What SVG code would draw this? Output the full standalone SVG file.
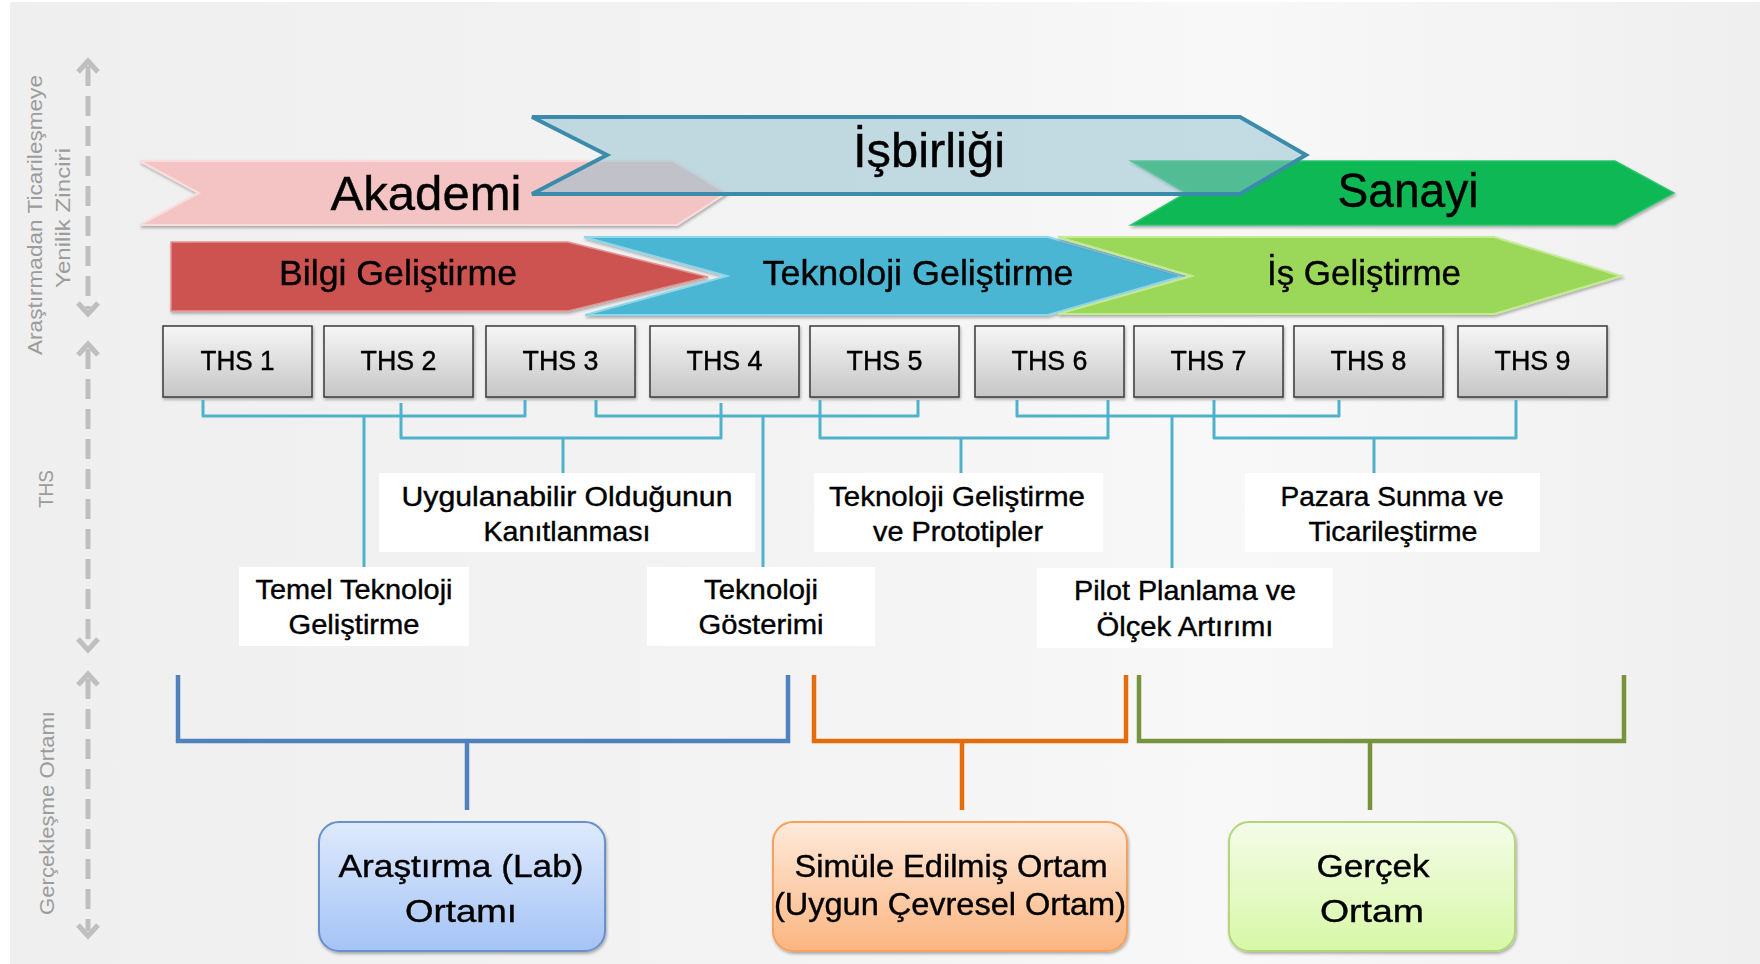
<svg xmlns="http://www.w3.org/2000/svg" width="1760" height="964" viewBox="0 0 1760 964">
<defs>
<style>
.t{font-family:"Liberation Sans",Arial,sans-serif;fill:#000;stroke:#000;stroke-width:0.4;text-anchor:middle}
.side{font-family:"Liberation Sans",Arial,sans-serif;fill:#9c9c9c;font-size:20px;text-anchor:middle}
.big{font-size:48px}
.bar{font-size:35px}
.ths{font-size:28px}
.lab{font-size:28px}
.env{font-size:32px}
.teal{fill:none;stroke:#4fb1cb;stroke-width:3;stroke-linejoin:round}
.ax{fill:none;stroke:#bfbfbf;stroke-width:5}
.axd{fill:none;stroke:#bfbfbf;stroke-width:5;stroke-dasharray:20 10}
.wbox{fill:#fff}
.thsbox{fill:url(#gThs);stroke:#3a3a3a;stroke-width:1.5}
</style>
<linearGradient id="gBg" x1="0" y1="0" x2="1" y2="0">
<stop offset="0" stop-color="#efefef"/>
<stop offset="0.45" stop-color="#f3f3f3"/>
<stop offset="0.7" stop-color="#f8f8f8"/>
<stop offset="1" stop-color="#efefef"/>
</linearGradient>
<linearGradient id="gThs" x1="0" y1="0" x2="0" y2="1">
<stop offset="0" stop-color="#f6f6f6"/>
<stop offset="1" stop-color="#c6c6c6"/>
</linearGradient>
<linearGradient id="gBlue" x1="0" y1="0" x2="0" y2="1">
<stop offset="0" stop-color="#dfeafc"/>
<stop offset="1" stop-color="#a4c3f6"/>
</linearGradient>
<linearGradient id="gOr" x1="0" y1="0" x2="0" y2="1">
<stop offset="0" stop-color="#feeadb"/>
<stop offset="1" stop-color="#fbb580"/>
</linearGradient>
<linearGradient id="gGr" x1="0" y1="0" x2="0" y2="1">
<stop offset="0" stop-color="#f4fce8"/>
<stop offset="1" stop-color="#d7f8a6"/>
</linearGradient>
<filter id="sh" x="-5%" y="-10%" width="110%" height="130%">
<feDropShadow dx="1" dy="2" stdDeviation="1.5" flood-color="#000" flood-opacity="0.3"/>
</filter>
</defs>

<rect x="0" y="0" width="1760" height="964" fill="#ffffff"/>
<rect x="10" y="2" width="1750" height="962" fill="url(#gBg)"/>

<g id="axes">
<path class="axd" d="M88,66 V309"/>
<path class="ax" d="M78,72 L88,61 L98,72"/>
<path class="ax" d="M78,303 L88,314 L98,303"/>
<path class="axd" d="M88,349 V645"/>
<path class="ax" d="M78,355 L88,344 L98,355"/>
<path class="ax" d="M78,639 L88,650 L98,639"/>
<path class="axd" d="M88,679 V931"/>
<path class="ax" d="M78,685 L88,674 L98,685"/>
<path class="ax" d="M78,925 L88,936 L98,925"/>
<text class="side" transform="translate(42,215) rotate(-90)" textLength="280" lengthAdjust="spacingAndGlyphs">Araştırmadan Ticarileşmeye</text>
<text class="side" transform="translate(70,218) rotate(-90)" textLength="140" lengthAdjust="spacingAndGlyphs">Yenilik Zinciri</text>
<text class="side" transform="translate(53,489) rotate(-90)" textLength="38" lengthAdjust="spacingAndGlyphs">THS</text>
<text class="side" transform="translate(54,813) rotate(-90)" textLength="204" lengthAdjust="spacingAndGlyphs">Gerçekleşme Ortamı</text>
</g>

<g id="akademi" filter="url(#sh)">
<polygon points="140,161 673,161 726,193 677,225 140,225 199,193" fill="#f4c3c3" stroke="#f9dcdc" stroke-width="2"/>
<text class="t big" x="426" y="210" textLength="191" lengthAdjust="spacingAndGlyphs">Akademi</text>
</g>
<g id="sanayi" filter="url(#sh)">
<polygon points="1131,161 1615,161 1674,193 1615,225 1131,225 1186,193" fill="#0bb854" stroke="#2cc46c" stroke-width="1.5"/>
<text class="t big" x="1408" y="207" textLength="141" lengthAdjust="spacingAndGlyphs">Sanayi</text>
</g>
<g id="isbirligi">
<polygon points="532,117 1240,117 1306,155 1240,194 532,194 607,155" fill="#92c2cf" fill-opacity="0.52" stroke="#3b8cab" stroke-width="4"/>
<text class="t big" x="929" y="167" textLength="152" lengthAdjust="spacingAndGlyphs">İşbirliği</text>
</g>

<g id="bilgi" filter="url(#sh)">
<polygon points="171,242 568,242 708,277 568,311 171,311" fill="#cd5351" stroke="#e39492" stroke-width="1.5"/>
<text class="t bar" x="398" y="285" textLength="238" lengthAdjust="spacingAndGlyphs">Bilgi Geliştirme</text>
</g>
<g id="teknoloji" filter="url(#sh)">
<polygon points="584,237 1048,237 1183,276 1048,315 585,315 727,276" fill="#4cb6d3" stroke="#8fd6ea" stroke-width="2"/>
<text class="t bar" x="918" y="285" textLength="311" lengthAdjust="spacingAndGlyphs">Teknoloji Geliştirme</text>
</g>
<g id="is" filter="url(#sh)">
<polygon points="1058,237 1494,237 1621,276 1494,314 1058,314 1192,276" fill="#9bd759" stroke="#c3eb92" stroke-width="2"/>
<text class="t bar" x="1364" y="285" textLength="194" lengthAdjust="spacingAndGlyphs">İş Geliştirme</text>
</g>

<g id="ths1" filter="url(#sh)"><rect class="thsbox" x="163" y="326" width="149" height="71"/><text class="t ths" x="237.5" y="370" textLength="74" lengthAdjust="spacingAndGlyphs">THS 1</text></g>
<g id="ths2" filter="url(#sh)"><rect class="thsbox" x="324" y="326" width="149" height="71"/><text class="t ths" x="398.5" y="370" textLength="76" lengthAdjust="spacingAndGlyphs">THS 2</text></g>
<g id="ths3" filter="url(#sh)"><rect class="thsbox" x="486" y="326" width="149" height="71"/><text class="t ths" x="560.5" y="370" textLength="76" lengthAdjust="spacingAndGlyphs">THS 3</text></g>
<g id="ths4" filter="url(#sh)"><rect class="thsbox" x="650" y="326" width="149" height="71"/><text class="t ths" x="724.5" y="370" textLength="76" lengthAdjust="spacingAndGlyphs">THS 4</text></g>
<g id="ths5" filter="url(#sh)"><rect class="thsbox" x="810" y="326" width="149" height="71"/><text class="t ths" x="884.5" y="370" textLength="76" lengthAdjust="spacingAndGlyphs">THS 5</text></g>
<g id="ths6" filter="url(#sh)"><rect class="thsbox" x="975" y="326" width="149" height="71"/><text class="t ths" x="1049.5" y="370" textLength="76" lengthAdjust="spacingAndGlyphs">THS 6</text></g>
<g id="ths7" filter="url(#sh)"><rect class="thsbox" x="1134" y="326" width="149" height="71"/><text class="t ths" x="1208.5" y="370" textLength="76" lengthAdjust="spacingAndGlyphs">THS 7</text></g>
<g id="ths8" filter="url(#sh)"><rect class="thsbox" x="1294" y="326" width="149" height="71"/><text class="t ths" x="1368.5" y="370" textLength="76" lengthAdjust="spacingAndGlyphs">THS 8</text></g>
<g id="ths9" filter="url(#sh)"><rect class="thsbox" x="1458" y="326" width="149" height="71"/><text class="t ths" x="1532.5" y="370" textLength="76" lengthAdjust="spacingAndGlyphs">THS 9</text></g>

<g id="connectors">
<path class="teal" d="M203,400 V416 H525 V400 M364,416 V567"/>
<path class="teal" d="M401,403 V438 H721 V403 M563,438 V473"/>
<path class="teal" d="M596,400 V416 H918 V400 M763,416 V567"/>
<path class="teal" d="M820,400 V438 H1108 V400 M961,438 V473"/>
<path class="teal" d="M1017,400 V416 H1339 V400 M1172,416 V568"/>
<path class="teal" d="M1214,400 V438 H1516 V400 M1374,438 V473"/>
<path d="M178,675 V741 H788 V675 M467,741 V810" fill="none" stroke="#4f81bd" stroke-width="4.5"/>
<path d="M814,675 V741 H1126 V675 M962,741 V810" fill="none" stroke="#e46c0a" stroke-width="4.5"/>
<path d="M1139,675 V741 H1624 V675 M1370,741 V810" fill="none" stroke="#77933c" stroke-width="4.5"/>
</g>

<g id="uygulanabilir">
<rect class="wbox" x="379" y="473" width="376" height="79"/>
<text class="t lab" x="567" y="506" textLength="331" lengthAdjust="spacingAndGlyphs">Uygulanabilir Olduğunun</text>
<text class="t lab" x="567" y="541" textLength="167" lengthAdjust="spacingAndGlyphs">Kanıtlanması</text>
</g>
<g id="temel">
<rect class="wbox" x="239" y="567" width="230" height="79"/>
<text class="t lab" x="354" y="599" textLength="197" lengthAdjust="spacingAndGlyphs">Temel Teknoloji</text>
<text class="t lab" x="354" y="634" textLength="131" lengthAdjust="spacingAndGlyphs">Geliştirme</text>
</g>
<g id="gosterimi">
<rect class="wbox" x="647" y="567" width="228" height="79"/>
<text class="t lab" x="761" y="599" textLength="114" lengthAdjust="spacingAndGlyphs">Teknoloji</text>
<text class="t lab" x="761" y="634" textLength="125" lengthAdjust="spacingAndGlyphs">Gösterimi</text>
</g>
<g id="prototipler">
<rect class="wbox" x="814" y="473" width="289" height="79"/>
<text class="t lab" x="957" y="506" textLength="256" lengthAdjust="spacingAndGlyphs">Teknoloji Geliştirme</text>
<text class="t lab" x="958" y="541" textLength="170" lengthAdjust="spacingAndGlyphs">ve Prototipler</text>
</g>
<g id="pilot">
<rect class="wbox" x="1037" y="568" width="296" height="80"/>
<text class="t lab" x="1185" y="600" textLength="222" lengthAdjust="spacingAndGlyphs">Pilot Planlama ve</text>
<text class="t lab" x="1185" y="636" textLength="177" lengthAdjust="spacingAndGlyphs">Ölçek Artırımı</text>
</g>
<g id="pazara">
<rect class="wbox" x="1245" y="473" width="295" height="79"/>
<text class="t lab" x="1392" y="506" textLength="223" lengthAdjust="spacingAndGlyphs">Pazara Sunma ve</text>
<text class="t lab" x="1393" y="541" textLength="169" lengthAdjust="spacingAndGlyphs">Ticarileştirme</text>
</g>

<g id="lab" filter="url(#sh)">
<rect x="319" y="822" width="286" height="129" rx="20" fill="url(#gBlue)" stroke="#6a90cc" stroke-width="2"/>
<text class="t env" x="461" y="877" textLength="245" lengthAdjust="spacingAndGlyphs">Araştırma (Lab)</text>
<text class="t env" x="461" y="922" textLength="112" lengthAdjust="spacingAndGlyphs">Ortamı</text>
</g>
<g id="simule" filter="url(#sh)">
<rect x="773" y="822" width="354" height="129" rx="20" fill="url(#gOr)" stroke="#f6a15b" stroke-width="2"/>
<text class="t env" x="951" y="877" textLength="313" lengthAdjust="spacingAndGlyphs">Simüle Edilmiş Ortam</text>
<text class="t env" x="950" y="915" textLength="352" lengthAdjust="spacingAndGlyphs">(Uygun Çevresel Ortam)</text>
</g>
<g id="gercek" filter="url(#sh)">
<rect x="1229" y="822" width="286" height="129" rx="20" fill="url(#gGr)" stroke="#b3d67a" stroke-width="2"/>
<text class="t env" x="1373" y="877" textLength="113" lengthAdjust="spacingAndGlyphs">Gerçek</text>
<text class="t env" x="1372" y="922" textLength="104" lengthAdjust="spacingAndGlyphs">Ortam</text>
</g>
</svg>
